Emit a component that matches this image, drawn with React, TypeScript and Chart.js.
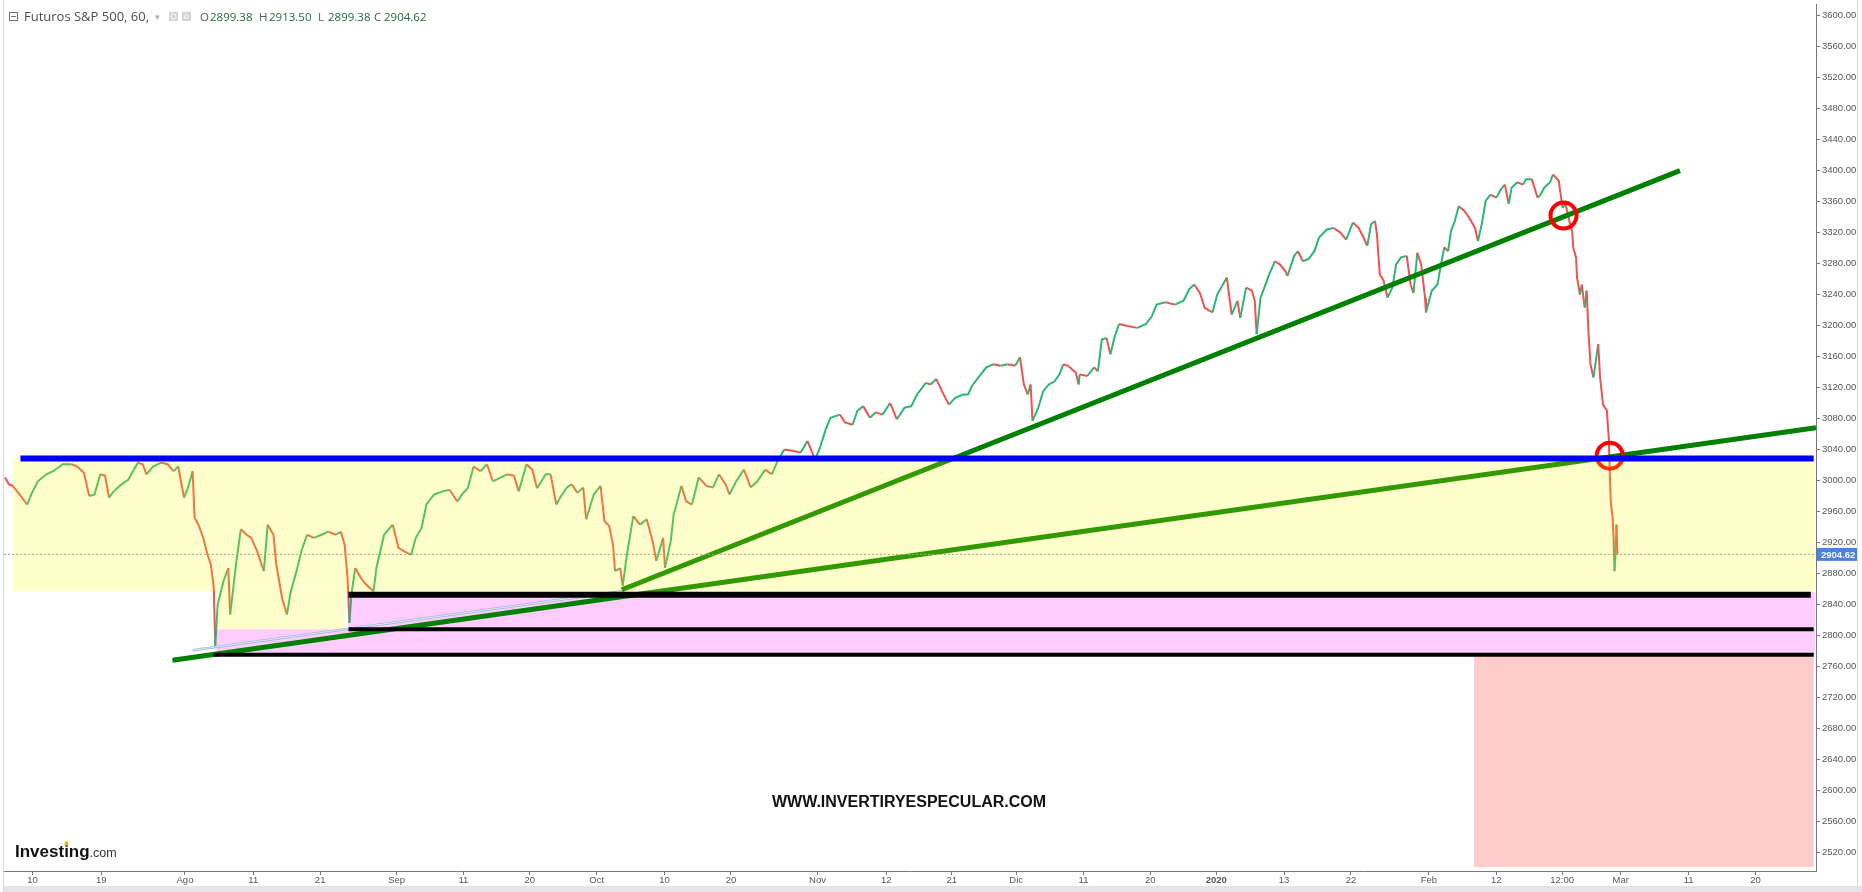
import React, { useEffect, useRef } from 'react';
import { Chart, registerables } from 'chart.js';

Chart.register(...registerables);

const CANVAS_W = 1862;
const CANVAS_H = 892;

// x axis: trading-day index, 0 = 1 Aug 2019 (hourly chart, weekends removed)
const xMin = -18.81;
const xMax = 169.54;
const xTickValues = [-15.85, -8.7, 0, 7.1, 14.05, 22.0, 28.95, 35.85, 42.8, 49.85, 56.75, 65.75, 72.9, 79.7, 86.4, 93.4, 100.35, 107.2, 114.25, 121.2, 129.3, 136.3, 143.15, 149.25, 156.3, 163.25];
const xTickLabels = ['10', '19', 'Ago', '11', '21', 'Sep', '11', '20', 'Oct', '10', '20', 'Nov', '12', '21', 'Dic', '11', '20', '2020', '13', '22', 'Feb', '12', '12:00', 'Mar', '11', '20'];

const yMin = 2495.9;
const yMax = 3615.1;
const yTickValues = [2520, 2560, 2600, 2640, 2680, 2720, 2760, 2800, 2840, 2880, 2920, 2960, 3000, 3040, 3080, 3120, 3160, 3200, 3240, 3280, 3320, 3360, 3400, 3440, 3480, 3520, 3560, 3600];

// price path
const priceIdx = [
  -18.7, -18.3, -17.9, -17.2, -16.4, -15.9, -15.3, -14.4, -13.7, -12.7, -11.8, -11.2, -10.5, -9.95, -9.4, -8.8, -8.3, -7.9, -7.4, -6.6,
  -5.9, -4.9, -4.4, -4.0, -3.3, -2.5, -1.8, -1.2, -0.7, -0.1, 0.3, 0.8, 1.0, 1.4, 1.9, 2.3, 2.7, 3.0, 3.15, 3.4,
  4.0, 4.5, 4.7, 5.3, 5.8, 6.4, 6.9, 7.5, 8.2, 8.6, 9.2, 9.5, 10.1, 10.6, 11.0, 11.6, 12.1, 12.7, 13.4, 14.2,
  14.9, 15.7, 16.2, 16.6, 16.9, 17.1, 17.3, 17.7, 18.3, 18.8, 19.6, 19.9, 20.7, 21.6, 22.2, 22.7, 23.5, 24.0, 24.6, 25.1,
  25.9, 26.8, 27.5, 28.3, 28.8, 29.4, 30.0, 30.7, 31.4, 32.0, 32.7, 33.5, 34.2, 34.7, 35.2, 35.5, 36.1, 36.6, 37.5, 38.0,
  38.6, 39.1, 39.7, 40.2, 40.8, 41.4, 41.7, 42.5, 43.2, 43.6, 44.1, 44.5, 44.7, 45.25, 45.5, 46.0, 46.6, 47.3, 48.0, 48.6,
  49.0, 49.7, 49.9, 50.5, 50.8, 51.6, 52.1, 52.7, 53.4, 54.2, 54.9, 55.5, 56.2, 56.6, 57.3, 58.1, 58.8, 59.5, 60.3, 61.0,
  61.6, 62.3, 63.3, 64.0, 64.7, 65.5, 66.0, 66.6, 67.1, 68.1, 68.6, 69.4, 69.9, 70.5, 71.2, 71.8, 72.5, 73.3, 74.0, 74.8,
  75.5, 76.1, 77.0, 77.5, 78.1, 78.7, 79.4, 80.1, 80.9, 81.4, 81.8, 82.6, 83.3, 84.0, 84.8, 85.5, 86.3, 86.8, 87.2, 87.6,
  87.9, 88.1, 88.7, 89.2, 89.8, 90.4, 90.9, 91.3, 91.8, 92.6, 92.9, 93.0, 93.8, 94.5, 94.9, 95.3, 95.8, 96.2, 96.6, 97.1,
  98.1, 99.0, 99.9, 100.5, 101.0, 101.9, 102.9, 103.8, 104.4, 104.9, 105.5, 106.0, 106.8, 107.3, 108.3, 108.8, 109.4, 109.7, 110.3, 110.9,
  111.2, 111.4, 111.8, 112.2, 112.7, 113.3, 113.8, 114.4, 114.6, 115.3, 115.7, 116.2, 116.8, 117.4, 117.9, 118.7, 119.4, 120.1, 120.7, 121.4,
  122.0, 122.5, 122.9, 123.3, 123.7, 123.9, 124.1, 124.2, 124.6, 125.0, 125.5, 125.9, 126.4, 127.0, 127.4, 127.7, 128.1, 128.5, 128.9, 129.0,
  129.6, 130.2, 130.5, 130.9, 131.3, 131.6, 132.0, 132.4, 133.0, 133.5, 134.1, 134.4, 134.8, 135.2, 135.7, 136.3, 136.8, 137.2, 137.6, 137.9,
  138.5, 139.1, 139.4, 140.0, 140.6, 140.9, 141.3, 141.9, 142.2, 142.8, 143.0, 143.2, 143.5, 143.9, 144.2, 144.3, 144.6, 144.7, 145.0, 145.2,
  145.5, 145.7, 145.9, 146.1, 146.4, 146.7, 146.9, 147.1, 147.4, 147.8, 148.0, 148.1, 148.2, 148.4, 148.5, 148.6, 148.7, 148.8, 148.9
];
const priceClose = [
  3004, 2995, 2993, 2982, 2969, 2984, 2999, 3008, 3012, 3021, 3021, 3018, 3010, 2980, 2982, 3008, 3006, 2978, 2986, 2995,
  3001, 3023, 3021, 3008, 3018, 3023, 3021, 3012, 3018, 2978, 2990, 3012, 2952, 2943, 2926, 2906, 2891, 2861, 2785, 2840,
  2870, 2887, 2827, 2891, 2937, 2930, 2926, 2909, 2883, 2943, 2930, 2891, 2848, 2827, 2857, 2883, 2909, 2930, 2926, 2930,
  2934, 2930, 2934, 2917, 2874, 2816, 2853, 2887, 2874, 2866, 2857, 2887, 2930, 2943, 2913, 2909, 2904, 2926, 2939, 2969,
  2982, 2986, 2988, 2973, 2982, 2990, 3018, 3012, 3021, 2999, 3003, 3008, 3006, 2986, 3008, 3021, 3014, 2990, 3008, 3008,
  2969, 2980, 2991, 2995, 2984, 2991, 2950, 2982, 2993, 2948, 2941, 2917, 2883, 2887, 2864, 2909, 2954, 2943, 2950, 2922,
  2896, 2926, 2887, 2922, 2956, 2993, 2973, 2969, 3004, 2993, 2991, 3008, 2995, 2982, 2999, 3014, 2991, 2999, 3014, 3008,
  3025, 3040, 3038, 3036, 3051, 3027, 3042, 3066, 3081, 3085, 3075, 3072, 3090, 3096, 3081, 3088, 3085, 3100, 3079, 3094,
  3096, 3111, 3126, 3124, 3131, 3115, 3098, 3107, 3111, 3111, 3122, 3135, 3146, 3150, 3148, 3150, 3148, 3159, 3124, 3111,
  3124, 3077, 3094, 3115, 3124, 3128, 3137, 3150, 3148, 3139, 3124, 3137, 3135, 3146, 3141, 3182, 3184, 3163, 3184, 3202,
  3199, 3197, 3202, 3212, 3227, 3230, 3227, 3232, 3247, 3253, 3242, 3223, 3217, 3240, 3262, 3214, 3232, 3210, 3249, 3245,
  3232, 3189, 3236, 3249, 3266, 3283, 3279, 3270, 3264, 3290, 3296, 3283, 3286, 3296, 3314, 3324, 3326, 3320, 3311, 3333,
  3326, 3314, 3303, 3331, 3335, 3318, 3283, 3266, 3258, 3236, 3249, 3279, 3288, 3290, 3253, 3242, 3294, 3279, 3236, 3217,
  3245, 3253, 3275, 3301, 3296, 3322, 3335, 3354, 3348, 3339, 3326, 3309, 3331, 3361, 3369, 3365, 3376, 3382, 3357, 3378,
  3385, 3382, 3389, 3389, 3365, 3369, 3378, 3385, 3395, 3387, 3369, 3352, 3357, 3335, 3322, 3301, 3288, 3262, 3240, 3253,
  3223, 3245, 3189, 3150, 3133, 3158, 3176, 3133, 3098, 3090, 3055, 3012, 2973, 2952, 2926, 2883, 2904, 2943, 2904.62
];

const lastPrice = 2904.62;

// drawings: [x, price] end points
const trendShallow = [[-1.3, 2768], [169.54, 3068]];
const trendSteep = [[45.4, 2859], [155.4, 3400]];
const trendThin = [[0.8, 2781], [45.4, 2857]];
const blueLevel = [[-17.1, 3028.4], [169.3, 3028.4]];
const blackLevelTop = [[17.0, 2852.5], [169.0, 2852.5]];
const blackLevelMid = [[17.0, 2808], [169.3, 2808]];
const blackLevelLow = [[3.0, 2775], [169.3, 2775]];
const circleMarks = [[143.3, 3342], [148.1, 3032]];

// zones: [xFrom, xTo, priceLow, priceHigh]
const yellowZones = [[-17.9, 169.45, 2857, 3028], [3.3, 16.6, 2808, 2857]];
const pinkZones = [[3.3, 169.45, 2775, 2808], [17.0, 169.45, 2808, 2856]];
const redZones = [[134.0, 169.3, 2501, 2775]];

const headerTitle = 'Futuros S&P 500, 60,';
const ohlcLabels = ['O', 'H', 'L', 'C'];
const ohlcValues = ['2899.38', '2913.50', '2899.38', '2904.62'];
const watermark = 'WWW.INVERTIRYESPECULAR.COM';

const UP = '#2bb673';
const DOWN = '#f05252';
const AXIS_FONT = '"Liberation Sans", Arial, sans-serif';

const toPts = (arr: number[][]) => arr.map((p) => ({ x: p[0], y: p[1] }));

const lineDs = (label: string, arr: number[][], color: string, width: number, order: number, extra: any = {}) => ({
  label,
  type: 'line',
  data: toPts(arr),
  borderColor: color,
  borderWidth: width,
  borderCapStyle: 'butt',
  pointRadius: 0,
  pointHoverRadius: 0,
  tension: 0,
  fill: false,
  order,
  ...extra,
});

const fillZones = (chart: any, zones: number[][], color: string) => {
  const { ctx, chartArea, scales } = chart;
  const x = scales.x;
  const y = scales.y;
  ctx.save();
  ctx.beginPath();
  ctx.rect(chartArea.left, chartArea.top, chartArea.right - chartArea.left, chartArea.bottom - chartArea.top);
  ctx.clip();
  ctx.fillStyle = color;
  zones.forEach((z) => {
    const x0 = x.getPixelForValue(z[0]);
    const x1 = x.getPixelForValue(z[1]);
    const y0 = y.getPixelForValue(z[3]);
    const y1 = y.getPixelForValue(z[2]);
    ctx.fillRect(x0, y0, x1 - x0, y1 - y0);
  });
  ctx.restore();
};

const overlayPlugin = {
  id: 'overlayPlugin',
  beforeDatasetsDraw(chart: any) {
    fillZones(chart, pinkZones, 'rgba(255,0,255,0.2)');
    fillZones(chart, redZones, 'rgba(255,0,0,0.2)');
  },
  afterDatasetDraw(chart: any, args: any) {
    const ds = chart.data.datasets[args.index];
    if (ds.label !== 'lastPriceLine') return;
    fillZones(chart, yellowZones, 'rgba(255,255,0,0.2)');
  },
  afterDraw(chart: any) {
    const { ctx, chartArea, scales } = chart;
    const y = scales.y;
    ctx.save();

    // frame lines
    ctx.strokeStyle = '#d8d8d8';
    ctx.lineWidth = 1;
    ctx.beginPath();
    ctx.moveTo(3.5, 0);
    ctx.lineTo(3.5, CANVAS_H);
    ctx.moveTo(1857.5, 0);
    ctx.lineTo(1857.5, 886);
    ctx.stroke();

    // bottom status bar
    ctx.fillStyle = '#e3e3e8';
    ctx.fillRect(4, 886, CANVAS_W - 4, 6);

    // last price label on the axis
    const py = y.getPixelForValue(lastPrice);
    ctx.fillStyle = '#4a7fe6';
    ctx.fillRect(chartArea.right + 1, py - 6.5, 40, 13);
    ctx.fillStyle = '#ffffff';
    ctx.font = 'bold 9.5px ' + AXIS_FONT;
    ctx.textAlign = 'left';
    ctx.textBaseline = 'middle';
    ctx.fillText(lastPrice.toFixed(2), chartArea.right + 5, py + 0.5);

    // header
    ctx.strokeStyle = '#777';
    ctx.lineWidth = 1;
    ctx.strokeRect(9.5, 12.5, 8, 8);
    ctx.beginPath();
    ctx.moveTo(11, 16.5);
    ctx.lineTo(16, 16.5);
    ctx.stroke();
    ctx.textBaseline = 'alphabetic';
    ctx.font = '13px "Open Sans", sans-serif';
    ctx.fillStyle = '#4d4d4d';
    ctx.fillText(headerTitle, 24, 21);
    ctx.fillStyle = '#b0b0b0';
    ctx.font = '9px "DejaVu Sans", sans-serif';
    ctx.fillText('▾', 155, 20);
    ctx.fillStyle = '#d4d4d4';
    ctx.fillRect(169, 12, 9, 9);
    ctx.fillRect(182, 12, 9, 9);
    ctx.strokeStyle = '#ffffff';
    ctx.beginPath();
    ctx.arc(173.5, 16.5, 2.5, 0, Math.PI * 2);
    ctx.stroke();
    ctx.beginPath();
    ctx.arc(186.5, 16.5, 2, 0, Math.PI * 2);
    ctx.stroke();
    const labelX = [200, 259, 318, 374];
    ctx.font = '11.5px "Open Sans", sans-serif';
    ohlcLabels.forEach((l, i) => {
      ctx.fillStyle = '#5a5a5a';
      ctx.fillText(l, labelX[i], 21);
      ctx.fillStyle = '#1f6b3c';
      ctx.fillText(ohlcValues[i], labelX[i] + 10, 21);
    });

    // watermark
    ctx.fillStyle = '#111111';
    ctx.font = 'bold 16px "Liberation Sans", Arial, sans-serif';
    ctx.textAlign = 'center';
    ctx.textBaseline = 'middle';
    ctx.fillText(watermark, 909, 803);

    // Investing.com logo
    ctx.textAlign = 'left';
    ctx.textBaseline = 'alphabetic';
    ctx.font = 'bold 17px "Liberation Sans", Arial, sans-serif';
    ctx.fillStyle = '#111111';
    ctx.fillText('Investing', 15, 857);
    const wInv = ctx.measureText('Investing').width;
    const wPre = ctx.measureText('Invest').width;
    const wI = ctx.measureText('i').width;
    ctx.fillStyle = '#f5a623';
    ctx.fillRect(15 + wPre + wI / 2 - 1.75, 841.5, 3.5, 4);
    ctx.font = '12.5px "Liberation Sans", Arial, sans-serif';
    ctx.fillStyle = '#333333';
    ctx.fillText('.com', 15 + wInv, 857);

    ctx.restore();
  },
};

export default function App() {
  const canvasRef = useRef<HTMLCanvasElement | null>(null);

  useEffect(() => {
    const canvas = canvasRef.current;
    if (!canvas) return;

    const priceData = priceIdx.map((x, i) => ({ x, y: priceClose[i] }));

    const datasets: any[] = [
      {
        label: 'price',
        type: 'line',
        data: priceData,
        borderWidth: 2,
        pointRadius: 0,
        pointHoverRadius: 0,
        tension: 0,
        fill: false,
        borderColor: UP,
        segment: {
          borderColor: (c: any) => (c.p1.parsed.y >= c.p0.parsed.y ? UP : DOWN),
        },
        order: 20,
      },
      lineDs('trendShallow', trendShallow, '#008000', 5, 19),
      lineDs('trendSteep', trendSteep, '#008000', 5, 18),
      {
        label: 'circles',
        type: 'line',
        data: toPts(circleMarks),
        showLine: false,
        pointRadius: 13,
        pointHoverRadius: 13,
        pointBorderWidth: 4,
        pointBorderColor: '#ff0000',
        pointBackgroundColor: 'rgba(0,0,0,0)',
        order: 17,
      },
      lineDs('lastPriceLine', [[xMin, lastPrice], [xMax, lastPrice]], '#8492ad', 1, 16, { borderDash: [2, 2] }),
      lineDs('thinOuter', trendThin, '#9fb6d6', 2.5, 5),
      lineDs('thinInner', trendThin, '#f4f6fc', 0.8, 4),
      lineDs('blueLevel', blueLevel, '#0000f5', 6, 3),
      lineDs('blackTop', blackLevelTop, '#000000', 6, 2),
      lineDs('blackMid', blackLevelMid, '#000000', 4, 1),
      lineDs('blackLow', blackLevelLow, '#000000', 4, 0),
    ];

    const chart = new Chart(canvas, {
      type: 'line',
      data: { datasets },
      options: {
        animation: false,
        responsive: false,
        maintainAspectRatio: false,
        devicePixelRatio: 1,
        events: [],
        layout: { autoPadding: false, padding: { left: 4, top: 4, right: 0, bottom: 0 } },
        plugins: {
          legend: { display: false },
          tooltip: { enabled: false },
          title: { display: false },
        },
        scales: {
          x: {
            type: 'linear',
            min: xMin,
            max: xMax,
            afterFit: (s: any) => {
              s.height = 21;
              s.paddingLeft = 0;
              s.paddingRight = 0;
            },
            afterBuildTicks: (s: any) => {
              s.ticks = xTickValues.map((v) => ({ value: v }));
            },
            grid: { display: true, drawOnChartArea: false, drawTicks: true, tickLength: 4, color: '#777' },
            border: { display: true, color: '#777', width: 1 },
            ticks: {
              autoSkip: false,
              maxRotation: 0,
              minRotation: 0,
              padding: 0,
              color: '#555',
              font: (c: any) => ({
                family: AXIS_FONT,
                size: 9.5,
                weight: xTickLabels[c.index] === '2020' ? 'bold' : 'normal',
              }),
              callback: (_v: any, i: number) => xTickLabels[i],
            },
          },
          y: {
            type: 'linear',
            position: 'right',
            min: yMin,
            max: yMax,
            afterFit: (s: any) => {
              s.width = 46;
              s.paddingTop = 0;
              s.paddingBottom = 0;
            },
            afterBuildTicks: (s: any) => {
              s.ticks = yTickValues.map((v) => ({ value: v }));
            },
            grid: { display: true, drawOnChartArea: false, drawTicks: true, tickLength: 4, color: '#777' },
            border: { display: true, color: '#777', width: 1 },
            ticks: {
              autoSkip: false,
              padding: 2,
              color: '#555',
              font: { family: AXIS_FONT, size: 9.5 },
              callback: (v: any) => Number(v).toFixed(2),
            },
          },
        },
      },
      plugins: [overlayPlugin],
    } as any);

    return () => {
      chart.destroy();
    };
  }, []);

  return (
    <div style={{ position: 'absolute', left: 0, top: 0, width: CANVAS_W, height: CANVAS_H, background: '#ffffff' }}>
      <canvas ref={canvasRef} width={CANVAS_W} height={CANVAS_H} style={{ display: 'block', width: CANVAS_W, height: CANVAS_H }} />
    </div>
  );
}
